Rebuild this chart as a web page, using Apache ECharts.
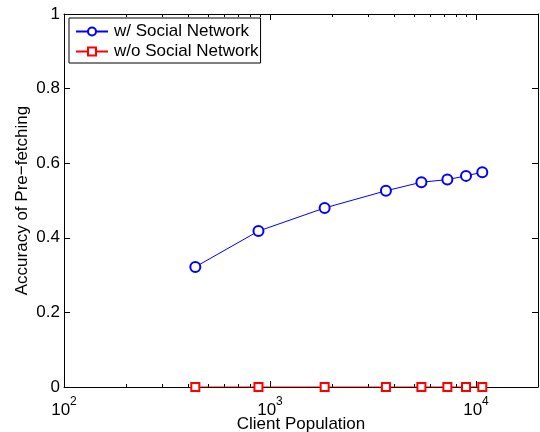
<!DOCTYPE html>
<html>
<head>
<meta charset="utf-8">
<script src="https://cdn.jsdelivr.net/npm/echarts@6/dist/echarts.min.js"></script>
<style>
  html, body { margin: 0; padding: 0; background: #fff; }
  #chart { width: 540px; height: 432px; }
</style>
</head>
<body>
<div id="chart"></div>
<script>
// Client population sizes (log-scaled x axis)
const population = [434, 879, 1842, 3654, 5433, 7262, 8945, 10730];
// Pre-fetching accuracy with and without social network information
const withSocial = [0.322, 0.418, 0.480, 0.526, 0.549, 0.556, 0.566, 0.576];
const withoutSocial = [0, 0, 0, 0, 0, 0, 0, 0];
const seriesNames = ['w/ Social Network', 'w/o Social Network'];
// Axis ticks
const majorTicksX = [100, 1000, 10000];
const minorTicksX = [200, 300, 400, 500, 600, 700, 800, 900,
                     2000, 3000, 4000, 5000, 6000, 7000, 8000, 9000, 20000];
const yTicks = [0, 0.2, 0.4, 0.6, 0.8, 1];

const FONT = 'Liberation Sans, Arial, Helvetica, sans-serif';
const FS = 17;
const chart = echarts.init(document.getElementById('chart'), null, { renderer: 'canvas' });

const pairs = (ys) => population.map((x, i) => [x, ys[i]]);
const supLabel = (v) => '{b|10}{s|' + Math.round(Math.log10(v)) + '}';

function xAxisDef(position, ticks, len, showLabel, showLine) {
  return {
    type: 'log', logBase: 10, min: 100, max: 20000, position: position,
    axisLine: { show: showLine, onZero: false, lineStyle: { color: '#000', width: 1 } },
    axisTick: { show: true, inside: true, length: len, customValues: ticks,
                lineStyle: { color: '#000', width: 1 } },
    axisLabel: {
      show: showLabel, customValues: majorTicksX, margin: 6,
      formatter: supLabel,
      rich: {
        b: { fontSize: FS, fontFamily: FONT, color: '#000', padding: [9, 0, 0, 0] },
        s: { fontSize: 12, fontFamily: FONT, color: '#000', padding: [0, 0, 8, 0] }
      }
    },
    splitLine: { show: false }, minorTick: { show: false }
  };
}

const option = {
  backgroundColor: '#fff',
  animation: false,
  grid: { left: 64, right: 2, top: 14, bottom: 45, containLabel: false, outerBoundsMode: 'none' },
  legend: {
    left: 69, top: 18, orient: 'vertical',
    data: seriesNames,
    itemWidth: 32, itemHeight: 10, itemGap: 3,
    padding: [5, 2, 3, 6],
    borderColor: '#000', borderWidth: 1, borderRadius: 0,
    backgroundColor: '#fff',
    textStyle: { fontSize: FS, fontFamily: FONT, color: '#000', padding: [0, 0, 0, 1] }
  },
  xAxis: [
    Object.assign(xAxisDef('bottom', majorTicksX, 6, true, true), {
      name: 'Client Population', nameLocation: 'middle', nameGap: 29,
      nameMoveOverlap: false,
      nameTextStyle: { fontSize: FS, fontFamily: FONT, color: '#000' }
    }),
    xAxisDef('bottom', minorTicksX, 3, false, false),
    xAxisDef('top', majorTicksX, 6, false, true),
    xAxisDef('top', minorTicksX, 3, false, false)
  ],
  yAxis: [
    {
      type: 'value', min: 0, max: 1, interval: 0.2, position: 'left',
      name: 'Accuracy of Pre\u2212fetching', nameLocation: 'middle', nameGap: 33,
      nameMoveOverlap: false,
      nameTextStyle: { fontSize: FS, fontFamily: FONT, color: '#000' },
      axisLine: { show: true, onZero: false, lineStyle: { color: '#000', width: 1 } },
      axisTick: { show: true, inside: true, length: 6, customValues: yTicks,
                  lineStyle: { color: '#000' } },
      axisLabel: { fontSize: FS, fontFamily: FONT, color: '#000', margin: 4 },
      splitLine: { show: false }
    },
    {
      type: 'value', min: 0, max: 1, interval: 0.2, position: 'right',
      axisLine: { show: true, onZero: false, lineStyle: { color: '#000', width: 1 } },
      axisTick: { show: true, inside: true, length: 6, lineStyle: { color: '#000' } },
      axisLabel: { show: false },
      splitLine: { show: false }
    }
  ],
  series: [
    {
      name: seriesNames[0], type: 'line', xAxisIndex: 0, yAxisIndex: 0,
      data: pairs(withSocial),
      symbol: 'emptyCircle', symbolSize: 10,
      lineStyle: { color: '#0000ff', width: 1 },
      itemStyle: { color: '#0000ff', borderColor: '#0000ff', borderWidth: 1 },
      z: 3
    },
    {
      name: seriesNames[1], type: 'line', xAxisIndex: 0, yAxisIndex: 0,
      data: pairs(withoutSocial),
      symbol: 'emptyRect', symbolSize: 8,
      lineStyle: { color: '#ff0000', width: 1 },
      itemStyle: { color: '#ff0000', borderColor: '#ff0000', borderWidth: 1 },
      z: 4
    }
  ]
};
chart.setOption(option);
</script>
</body>
</html>
